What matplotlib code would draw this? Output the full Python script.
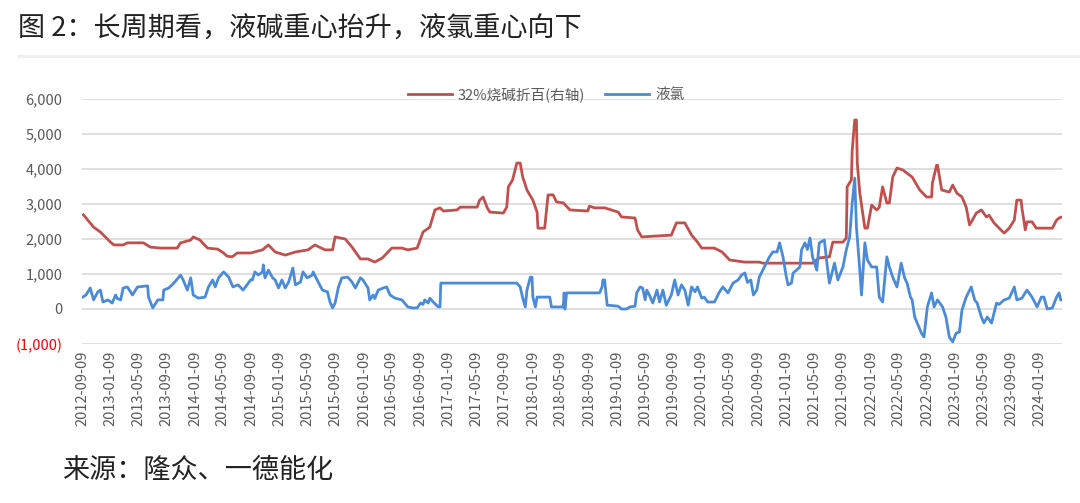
import matplotlib
matplotlib.use("Agg")
import matplotlib.pyplot as plt
import pandas as pd
import numpy as np

plt.rcParams['font.family'] = ['Noto Sans CJK SC', 'DejaVu Sans']

title = "图 2：长周期看，液碱重心抬升，液氯重心向下"
source = "来源：隆众、一德能化"
red_label = "32%烧碱折百(右轴)"
blue_label = "液氯"

# decimal-year time stamps and values
red_t = [2012.70, 2012.82, 2012.90, 2013.02, 2013.06, 2013.17, 2013.22, 2013.41, 2013.49, 2013.61,
         2013.81, 2013.85, 2013.97, 2014.00, 2014.08, 2014.17, 2014.29, 2014.36, 2014.40, 2014.46,
         2014.52, 2014.68, 2014.82, 2014.89, 2014.97, 2015.09, 2015.21, 2015.36, 2015.44, 2015.56,
         2015.65, 2015.68, 2015.80, 2015.88, 2015.98, 2016.07, 2016.15, 2016.24, 2016.35, 2016.47,
         2016.54, 2016.65, 2016.72, 2016.80, 2016.86, 2016.92, 2016.96, 2017.12, 2017.16, 2017.36,
         2017.39, 2017.43, 2017.48, 2017.51, 2017.67, 2017.71, 2017.73, 2017.78, 2017.83, 2017.87,
         2017.90, 2017.95, 2018.02, 2018.07, 2018.08, 2018.16, 2018.20, 2018.26, 2018.30, 2018.38,
         2018.46, 2018.67, 2018.69, 2018.75, 2018.87, 2019.03, 2019.07, 2019.23, 2019.26, 2019.31,
         2019.66, 2019.72, 2019.82, 2019.90, 2019.97, 2020.02, 2020.17, 2020.26, 2020.35, 2020.53,
         2020.70, 2020.74, 2021.33, 2021.41, 2021.53, 2021.57, 2021.69, 2021.73, 2021.74, 2021.79,
         2021.80, 2021.83, 2021.85, 2021.86, 2021.89, 2021.95, 2021.98, 2022.03, 2022.09, 2022.12,
         2022.16, 2022.21, 2022.24, 2022.28, 2022.33, 2022.40, 2022.51, 2022.60, 2022.68, 2022.74,
         2022.75, 2022.80, 2022.81, 2022.86, 2022.95, 2022.99, 2023.04, 2023.10, 2023.15, 2023.19,
         2023.27, 2023.33, 2023.39, 2023.42, 2023.48, 2023.54, 2023.60, 2023.66, 2023.72, 2023.75,
         2023.80, 2023.81, 2023.85, 2023.87, 2023.93, 2023.98, 2024.17, 2024.22, 2024.25, 2024.27]
red_v = [2690, 2340, 2200, 1910, 1830, 1830, 1890, 1890, 1770, 1740,
         1740, 1890, 1970, 2060, 1970, 1740, 1710, 1600, 1510, 1490,
         1600, 1600, 1690, 1830, 1630, 1540, 1630, 1690, 1830, 1690,
         1690, 2060, 2000, 1770, 1430, 1430, 1340, 1460, 1740, 1740,
         1690, 1740, 2200, 2340, 2830, 2890, 2800, 2830, 2910, 2910,
         3110, 3200, 2890, 2770, 2740, 2910, 3490, 3690, 4170, 4170,
         3770, 3400, 3110, 2770, 2310, 2310, 3260, 3260, 3060, 3030,
         2830, 2800, 2940, 2890, 2890, 2770, 2630, 2600, 2260, 2060,
         2110, 2460, 2460, 2110, 1910, 1740, 1740, 1630, 1400, 1340,
         1340, 1310, 1310, 1460, 1490, 1910, 1910, 2030, 3490, 3690,
         4540, 5400, 5400, 4170, 3310, 2310, 2310, 2970, 2830, 2900,
         3490, 3030, 3030, 3770, 4030, 3970, 3770, 3400, 3200, 3200,
         3600, 4110, 4110, 3400, 3340, 3540, 3310, 3200, 2910, 2400,
         2740, 2830, 2630, 2680, 2460, 2310, 2170, 2310, 2540, 3110,
         3110, 2890, 2260, 2490, 2490, 2310, 2310, 2540, 2600, 2620]

blue_t = [2012.69, 2012.73, 2012.78, 2012.82, 2012.87, 2012.90, 2012.93, 2012.99, 2013.04, 2013.08,
          2013.10, 2013.14, 2013.17, 2013.22, 2013.28, 2013.34, 2013.46, 2013.47, 2013.52, 2013.58,
          2013.64, 2013.65, 2013.71, 2013.77, 2013.85, 2013.88, 2013.93, 2013.97, 2014.00, 2014.06,
          2014.14, 2014.18, 2014.23, 2014.26, 2014.30, 2014.36, 2014.42, 2014.47, 2014.53, 2014.59,
          2014.68, 2014.70, 2014.73, 2014.77, 2014.82, 2014.83, 2014.85, 2014.89, 2014.94, 2014.97,
          2015.01, 2015.05, 2015.09, 2015.13, 2015.18, 2015.21, 2015.27, 2015.30, 2015.35, 2015.41,
          2015.42, 2015.48, 2015.53, 2015.59, 2015.62, 2015.65, 2015.68, 2015.72, 2015.76, 2015.83,
          2015.88, 2015.92, 2015.98, 2016.01, 2016.07, 2016.09, 2016.13, 2016.15, 2016.19, 2016.25,
          2016.29, 2016.33, 2016.39, 2016.47, 2016.54, 2016.60, 2016.65, 2016.69, 2016.72, 2016.74,
          2016.78, 2016.80, 2016.84, 2016.90, 2016.92, 2016.93, 2017.83, 2017.87, 2017.90, 2017.93,
          2017.95, 2017.99, 2018.01, 2018.02, 2018.05, 2018.07, 2018.22, 2018.24, 2018.38, 2018.39,
          2018.40, 2018.42, 2018.79, 2018.81, 2018.84, 2018.85, 2018.87, 2018.90, 2019.03, 2019.07,
          2019.13, 2019.17, 2019.23, 2019.25, 2019.29, 2019.32, 2019.35, 2019.37, 2019.40, 2019.44,
          2019.49, 2019.52, 2019.56, 2019.60, 2019.66, 2019.70, 2019.74, 2019.78, 2019.82, 2019.86,
          2019.90, 2019.94, 2019.97, 2020.02, 2020.05, 2020.09, 2020.17, 2020.23, 2020.27, 2020.33,
          2020.39, 2020.45, 2020.49, 2020.53, 2020.56, 2020.60, 2020.63, 2020.67, 2020.70, 2020.76,
          2020.82, 2020.86, 2020.91, 2020.94, 2020.98, 2021.02, 2021.04, 2021.08, 2021.10, 2021.14,
          2021.18, 2021.20, 2021.24, 2021.27, 2021.30, 2021.33, 2021.38, 2021.41, 2021.47, 2021.50,
          2021.53, 2021.59, 2021.63, 2021.69, 2021.73, 2021.77, 2021.80, 2021.83, 2021.85, 2021.89,
          2021.91, 2021.95, 2021.98, 2022.03, 2022.09, 2022.12, 2022.16, 2022.21, 2022.24, 2022.28,
          2022.33, 2022.38, 2022.42, 2022.45, 2022.49, 2022.51, 2022.54, 2022.57, 2022.62, 2022.65,
          2022.69, 2022.74, 2022.77, 2022.81, 2022.87, 2022.91, 2022.95, 2022.99, 2023.03, 2023.07,
          2023.10, 2023.15, 2023.21, 2023.25, 2023.28, 2023.33, 2023.36, 2023.40, 2023.45, 2023.48,
          2023.51, 2023.54, 2023.60, 2023.66, 2023.72, 2023.75, 2023.81, 2023.87, 2023.93, 2023.99,
          2024.04, 2024.07, 2024.11, 2024.17, 2024.22, 2024.25, 2024.27]
blue_v = [340, 400, 600, 260, 490, 540, 200, 260, 170, 400,
          300, 260, 600, 630, 400, 630, 660, 340, 30, 260,
          260, 540, 600, 740, 970, 830, 540, 890, 400, 310,
          340, 630, 830, 630, 890, 1060, 910, 630, 690, 540,
          830, 830, 1060, 970, 1060, 1260, 890, 1110, 890, 830,
          600, 830, 600, 770, 1170, 690, 770, 1060, 890, 970,
          1060, 770, 540, 490, 200, 30, 170, 630, 890, 910,
          770, 600, 890, 830, 600, 260, 400, 300, 540, 600,
          630, 400, 310, 260, 60, 30, 30, 170, 130, 260,
          170, 310, 200, 60, 60, 740, 740, 630, 310, 60,
          540, 910, 910, 340, 60, 340, 340, 60, 60, 460,
          0, 460, 460, 460, 630, 830, 830, 110, 80, 0,
          0, 60, 80, 460, 630, 600, 260, 540, 400, 170,
          540, 200, 540, 110, 400, 830, 400, 690, 540, 110,
          630, 490, 630, 310, 340, 200, 200, 490, 630, 460,
          740, 830, 970, 1030, 760, 830, 400, 540, 910, 1200,
          1490, 1630, 1630, 1890, 1490, 910, 690, 740, 1030, 1110,
          1200, 1690, 1890, 1700, 2030, 1490, 1110, 1890, 1970, 1310,
          740, 1310, 830, 1200, 1690, 2060, 3030, 3740, 2340, 1110,
          400, 1890, 1400, 1200, 1200, 340, 200, 1490, 1200, 910,
          630, 1310, 890, 740, 340, 260, -230, -400, -690, -800,
          60, 460, 60, 260, 60, -230, -800, -940, -690, -660,
          -30, 340, 630, 260, 170, -230, -400, -230, -400, -110,
          170, 130, 260, 310, 630, 260, 310, 540, 340, 60,
          340, 340, 0, 30, 340, 460, 260]

y_ticks = [-1000, 0, 1000, 2000, 3000, 4000, 5000, 6000]
y_labels = ["(1,000)", "0", "1,000", "2,000", "3,000", "4,000", "5,000", "6,000"]


def to_dates(ts):
    out = []
    for t in ts:
        y = int(np.floor(t))
        start = pd.Timestamp(year=y, month=1, day=1)
        end = pd.Timestamp(year=y + 1, month=1, day=1)
        out.append(start + (end - start) * (t - y))
    return out


red_d = to_dates(red_t)
blue_d = to_dates(blue_t)

fig = plt.figure(figsize=(10.8, 5.03), dpi=100)
ax = fig.add_axes([82 / 1080, 1 - 344 / 503, (1062 - 82) / 1080, (344 - 99) / 503])

ax.plot(red_d, red_v, color='#C0504D', lw=2.0, label=red_label, solid_joinstyle='round')
ax.plot(blue_d, blue_v, color='#4A8AD6', lw=2.0, label=blue_label, solid_joinstyle='round')

ax.set_ylim(-1000, 6000)
ax.set_yticks(y_ticks)
ax.set_yticklabels(y_labels)
for lbl in ax.get_yticklabels():
    lbl.set_color('#FF0000' if lbl.get_text().startswith('(') else '#595959')
ax.yaxis.grid(True, color='#D9D9D9', lw=1.2)
ax.set_axisbelow(True)

start = pd.Timestamp('2012-09-09')
xt = [start + pd.DateOffset(months=4 * i) for i in range(35)]
ax.set_xticks(xt)
ax.set_xticklabels([d.strftime('%Y-%m-%d') for d in xt], rotation=90, color='#595959', fontsize=10.5)
ax.set_xlim(start - pd.Timedelta(days=2), pd.Timestamp('2024-04-14'))

ax.tick_params(axis='y', length=0, pad=14, labelsize=10.5)
ax.tick_params(axis='x', length=0, pad=5)
for s in ax.spines.values():
    s.set_visible(False)

leg = fig.legend(loc='center', bbox_to_anchor=(546 / 1080, 1 - 95 / 503), ncol=2, frameon=False,
                 fontsize=10.5, handlelength=3.0, columnspacing=1.4, handletextpad=0.4)
for t in leg.get_texts():
    t.set_color('#595959')

fig.text(18 / 1080, 1 - 28 / 503, title, fontsize=19.5, color='#222222', va='center', ha='left',
         fontweight='light')
fig.add_artist(plt.Line2D([18 / 1080, 1.0], [1 - 56 / 503, 1 - 56 / 503], color='#EEEEEE', lw=2))
fig.text(62 / 1080, 1 - 470 / 503, source, fontsize=19.5, color='#222222', va='center', ha='left',
         fontweight='light')

fig.savefig('out.png', dpi=100)
